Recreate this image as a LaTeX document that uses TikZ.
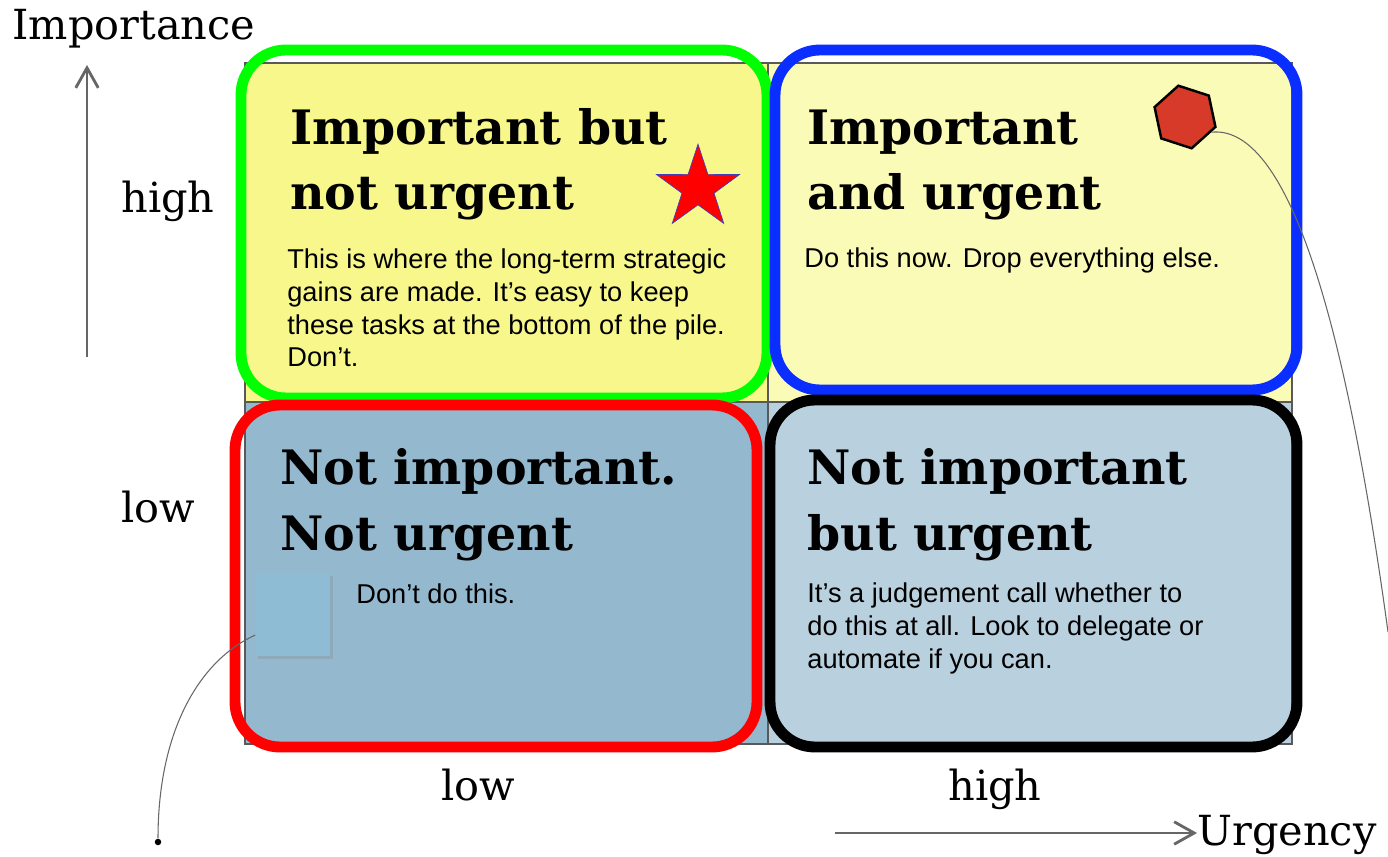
\documentclass[tikz,border=0pt]{standalone}
\usepackage{fontspec}
\setmainfont{Liberation Sans}
\newfontfamily\slabfont{DejaVu Serif}
\usetikzlibrary{arrows.meta,shapes.geometric,shadows}

\definecolor{cellTL}{HTML}{F7F78C}
\definecolor{cellTR}{HTML}{FBFBB8}
\definecolor{cellBL}{HTML}{94B8CE}
\definecolor{cellBR}{HTML}{B9D0DE}
\definecolor{hexred}{HTML}{D83A2A}
\definecolor{sqblue}{HTML}{8DBCD4}
\definecolor{frameblue}{HTML}{0A2EFF}

\begin{document}
\begin{tikzpicture}[x=0.02cm,y=-0.02cm,>={Straight Barb[length=0.4cm,width=0.45cm]},
    cell/.style={draw=black!65,line width=1.2pt},
    frame/.style={line width=6.2pt,rounded corners=0.9cm},
    title/.style={anchor=base west,inner sep=0pt,align=left,
        font=\slabfont\bfseries\fontsize{27}{37}\selectfont},
    body/.style={anchor=base west,inner sep=0pt,align=left,
        font=\fontsize{15.5}{18.6}\selectfont},
    axislabel/.style={anchor=base west,inner sep=0pt,font=\slabfont\fontsize{23.6}{28}\selectfont},
    axis/.style={->,draw=black!60,line width=1.6pt}]
    \useasboundingbox (0,0) rectangle (1388,857);
    % grid of the four cells
    \draw[cell,fill=cellTL] (245,63) rectangle (768,402);
    \draw[cell,fill=cellTR] (768,63) rectangle (1292,402);
    \draw[cell,fill=cellBL] (245,402) rectangle (768,744);
    \draw[cell,fill=cellBR] (768,402) rectangle (1292,744);
    % coloured frames
    \draw[frame,green] (241,50) rectangle (767,398);
    \draw[frame,frameblue] (775,50) rectangle (1297,390);
    \draw[frame,red] (235,405) rectangle (757,747);
    \draw[frame,black] (770,400) rectangle (1297,747);
    % quadrant texts (base = last line)
    \node[title] (tl) at (290,210) {Important but\\not urgent};
    \node[body] (tlbody) at (287,367) {This is where the long-term strategic\\gains are made. It’s easy to keep\\these tasks at the bottom of the pile.\\Don’t.};
    \node[title] (tr) at (807,210) {Important\\and urgent};
    \node[body] (trbody) at (804,268) {Do this now. Drop everything else.};
    \node[title] (bl) at (280,550) {Not important.\\Not urgent};
    \node[body] (blbody) at (356,603) {Don’t do this.};
    \node[title] (br) at (807,550) {Not important\\but urgent};
    \node[body] (brbody) at (807,668) {It’s a judgement call whether to\\do this at all. Look to delegate or\\automate if you can.};
    % markers
    \node[star,star points=5,star point ratio=2.6,fill=red,draw=blue!50!gray,
        inner sep=0pt,minimum size=1.75cm] (star) at (698,188) {};
    \node[regular polygon,regular polygon sides=6,rotate=-18,fill=hexred,draw=black,
        line width=1.4pt,inner sep=0pt,minimum size=1.28cm] (hex) at (1185,117) {};
    \node[fill=sqblue,inner sep=0pt,minimum width=1.5cm,minimum height=1.66cm,
        drop shadow={opacity=0.25,shadow xshift=1.5pt,shadow yshift=-1.5pt}] (sq) at (293,615) {};
    \node[circle,fill=black,inner sep=0pt,minimum size=0.13cm] (dot) at (158,842) {};
    \coordinate (rightend) at (1388,632);
    \draw[black!60,line width=0.6pt] (hex.-12) .. controls (1280,125) and (1340,280) .. (rightend);
    \draw[black!60,line width=0.6pt] (sq.208) .. controls (200,660) and (158,730) .. (dot);
    % axes
    \node[axislabel] (imp) at (12,40) {Importance};
    \node[axislabel] (imphigh) at (121,213) {high};
    \node[axislabel] (implow) at (121,522) {low};
    \node[axislabel,anchor=base] (urglow) at (478,800) {low};
    \node[axislabel,anchor=base] (urghigh) at (995,800) {high};
    \node[axislabel] (urg) at (1197,845) {Urgency};
    \coordinate (vstart) at (87,357);
    \coordinate (vend) at (87,65);
    \coordinate (hstart) at (835,833);
    \draw[axis] (vstart) -- (vend);
    \draw[axis] (hstart) -- (urg.west |- hstart);
\end{tikzpicture}
\end{document}
